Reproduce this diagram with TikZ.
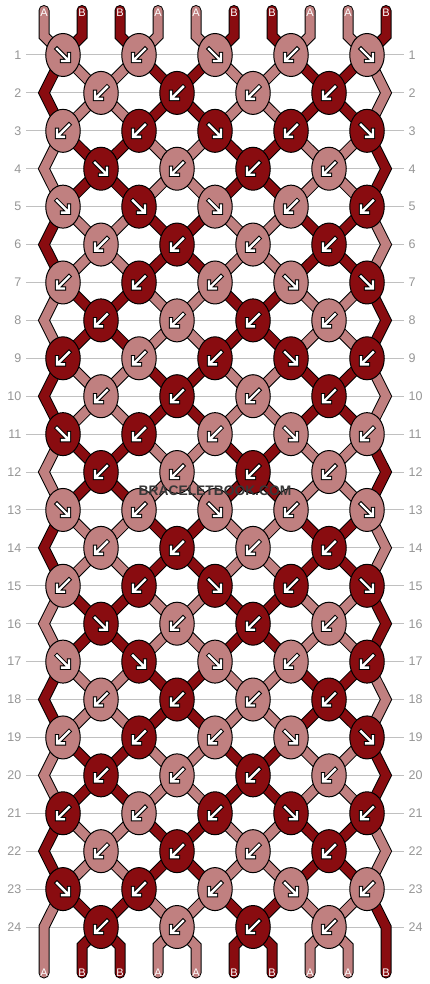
\documentclass[tikz,border=0pt]{standalone}
\usepackage{fontspec}
\setmainfont{Liberation Sans}
\usetikzlibrary{shapes.geometric}
\definecolor{lite}{RGB}{192,128,128}
\definecolor{dark}{RGB}{137,12,16}
\definecolor{labgray}{RGB}{150,150,150}
\definecolor{linegray}{RGB}{192,192,192}
\definecolor{wmgray}{RGB}{55,55,55}
\tikzset{
  rowlab/.style={text=labgray, font=\fontsize{12.5}{14}\selectfont, inner sep=0pt},
  rowline/.style={draw=linegray, line width=1pt},
  thread/.style={draw=black, line width=1pt, double=#1, double distance=9pt, line join=miter, line cap=round},
  knot/.style={ellipse, draw=black, line width=1pt, minimum width=34.5pt, minimum height=43pt, inner sep=0pt},
  endlab/.style={text=white, font=\fontsize{11}{12}\selectfont, inner sep=0pt},
  arrout/.style={draw=black, line width=4.4pt, line cap=rect, line join=miter},
  arrin/.style={draw=white, line width=2.4pt, line cap=rect, line join=miter},
  pics/arrD/.style={code={
    \draw[arrout] (-6,-6) -- (4,4) (6,-1) -- (6,6) -- (-1,6);
    \draw[arrin] (-6,-6) -- (4,4) (6,-1) -- (6,6) -- (-1,6);
  }},
  pics/arrK/.style={code={
    \draw[arrout] (6,-6) -- (-4,4) (-6,-1) -- (-6,6) -- (1,6);
    \draw[arrin] (6,-6) -- (-4,4) (-6,-1) -- (-6,6) -- (1,6);
  }}
}
\begin{document}
\begin{tikzpicture}[x=1pt,y=-1pt]
\useasboundingbox (0,0) rectangle (430,984);
\fill[white] (0,0) rectangle (430,984);
% row labels and guide lines
\foreach \r in {1,...,24} {
  \pgfmathsetmacro\yy{55+(\r-1)*37.913}
  \node[rowlab, anchor=east] (L\r) at (21.5,\yy) {\r};
  \node[rowlab, anchor=west] (R\r) at (408.5,\yy) {\r};
  \draw[rowline] ([xshift=4.5pt]L\r.east) -- ([xshift=-4.5pt]R\r.west);
}
% vertex coordinates: row r, string position i
\foreach \r in {1,...,24} {
  \pgfmathsetmacro\yy{55+(\r-1)*37.913}
  \foreach \i in {0,...,9} {
    \pgfmathsetmacro\xx{ifthenelse(mod(\r,2)==1, 63+38*(\i-mod(\i,2)), ifthenelse(\i==0, 44, ifthenelse(\i==9, 386, 63+38*(\i-mod(\i+1,2)))))}
    \coordinate (n-\r-\i) at (\xx,\yy);
  }
}
% threads
\foreach \p/\col/\lab in {0/lite/A,1/dark/B,2/dark/B,3/lite/A,4/lite/A,5/dark/B,6/dark/B,7/lite/A,8/lite/A,9/dark/B} {
  \pgfmathtruncatemacro\us{ifthenelse(mod(\p,2)==0, \p, 19-\p)}
  \pgfmathtruncatemacro\fm{mod(\us+24,20)}
  \pgfmathtruncatemacro\fp{ifthenelse(\fm<10, \fm, 19-\fm)}
  \pgfmathsetmacro\xs{44+38*\p}
  \pgfmathsetmacro\xf{44+38*\fp}
  \coordinate (ta\p) at (\xs,10.5);
  \coordinate (tb\p) at (\xs,36);
  \coordinate (ba\p) at (\xf,946);
  \coordinate (bb\p) at (\xf,973);
  \draw[thread=\col] (ta\p) -- (tb\p)
     \foreach \r [evaluate=\r as \ps using {int(ifthenelse(mod(\us+\r,20)<10, mod(\us+\r,20), 19-mod(\us+\r,20)))}] in {1,...,24} { -- (n-\r-\ps) }
     -- (ba\p) -- (bb\p);
  \node[endlab] (tl\p) at (\xs,12.5) {\lab};
  \node[endlab] (bl\p) at (\xf,973) {\lab};
}
% knots
\foreach \r/\row in {
  1/{D/lite,K/lite,D/lite,K/lite,D/lite},
  2/{K/lite,K/dark,K/lite,K/dark},
  3/{K/lite,K/dark,D/dark,K/dark,D/dark},
  4/{D/dark,K/lite,K/dark,K/lite},
  5/{D/lite,D/dark,D/lite,K/lite,K/dark},
  6/{K/lite,K/dark,K/lite,K/dark},
  7/{K/lite,K/dark,K/lite,D/lite,D/dark},
  8/{K/dark,K/lite,K/dark,K/lite},
  9/{K/dark,K/lite,K/dark,D/dark,K/dark},
  10/{K/lite,K/dark,K/lite,K/dark},
  11/{D/dark,K/dark,K/lite,D/lite,K/lite},
  12/{K/dark,K/lite,K/dark,K/lite}} {
  \pgfmathtruncatemacro\rb{\r+12}
  \foreach \rr in {\r,\rb} {
    \pgfmathsetmacro\yy{55+(\rr-1)*37.913}
    \foreach \d/\c [count=\j] in \row {
      \pgfmathsetmacro\xx{ifthenelse(mod(\rr,2)==1, 63, 101)+76*(\j-1)}
      \node[knot, fill=\c] (k-\rr-\j) at (\xx,\yy) {};
      \pic at (k-\rr-\j) {arr\d};
    }
  }
}
% watermark
\node[font=\bfseries\fontsize{13.8}{15}\selectfont, text=wmgray, inner sep=0pt] (wm) at (215,491) {BRACELETBOOK.COM};
\end{tikzpicture}
\end{document}
